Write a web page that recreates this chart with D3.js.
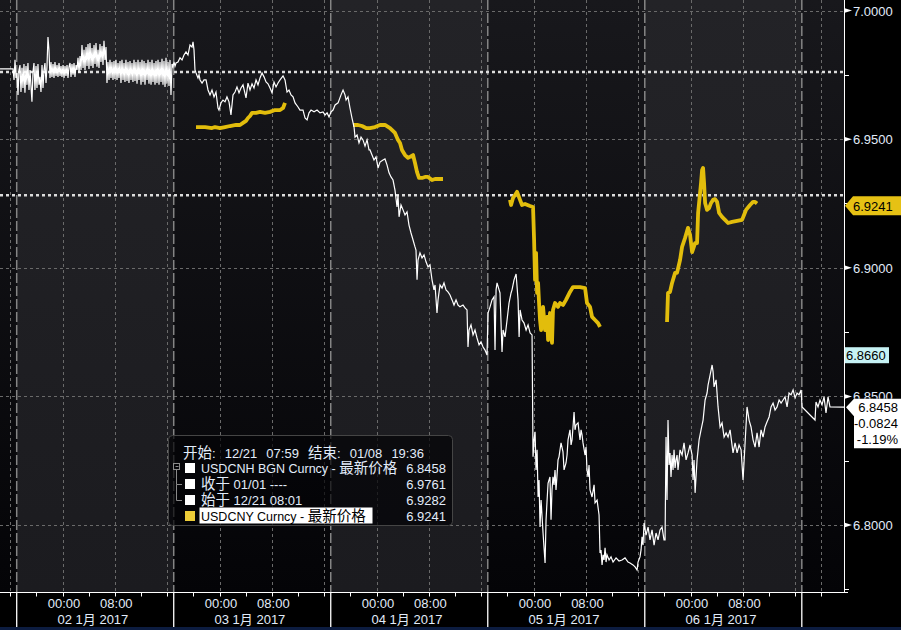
<!DOCTYPE html>
<html><head><meta charset="utf-8">
<script src="https://cdn.jsdelivr.net/npm/d3@7"></script>
<style>
html,body{margin:0;padding:0;background:#000;}
svg{display:block;}
text{font-family:"Liberation Sans",Arial,"Noto Sans CJK SC",sans-serif;}
</style></head><body>
<svg id="c" width="901" height="630"></svg>
<script>
// ---------------- DATA ----------------
// time = hours since 2017-01-02 00:00 (trading-time axis), value = price
const usdcnh = [
[-9.55,6.9773],[-7.56,6.9773],[-7.41,6.9730],[-7.26,6.9808],[-7.11,6.9738],[-6.95,6.9757],[-6.80,6.9672],[-6.65,6.9769],[-6.50,6.9788],[-6.35,6.9683],
[-6.19,6.9777],[-6.04,6.9699],[-5.89,6.9792],[-5.74,6.9680],[-5.58,6.9784],[-5.43,6.9711],[-5.28,6.9796],[-5.12,6.9691],[-4.97,6.9769],[-4.82,6.9707],
[-4.67,6.9645],[-4.51,6.9761],[-4.36,6.9796],[-4.21,6.9691],[-4.05,6.9784],[-3.90,6.9699],[-3.75,6.9792],[-3.60,6.9711],[-3.44,6.9742],[-3.29,6.9683],
[-3.13,6.9788],[-2.98,6.9699],[-2.83,6.9769],[-2.68,6.9796],[-2.52,6.9718],[-2.37,6.9784],[-2.22,6.9897],[-2.07,6.9847],[-1.91,6.9738],[-1.76,6.9800],
[-1.61,6.9742],[-1.45,6.9792],[-1.30,6.9738],[-1.15,6.9800],[-0.99,6.9746],[-0.84,6.9788],[-0.69,6.9742],[-0.53,6.9796],[-0.38,6.9746],[-0.23,6.9784],
[-0.08,6.9742],[0.08,6.9788],[0.23,6.9738],[0.38,6.9784],[0.53,6.9746],[0.69,6.9788],[0.84,6.9738],[0.99,6.9781],[1.15,6.9796],[1.30,6.9742],
[1.45,6.9792],[1.61,6.9750],[1.76,6.9796],[1.91,6.9742],[2.07,6.9788],[2.22,6.9769],[2.37,6.9816],[2.53,6.9757],[2.68,6.9823],[2.83,6.9769],
[2.98,6.9866],[3.14,6.9777],[3.29,6.9847],[3.44,6.9769],[3.60,6.9858],[3.75,6.9784],[3.90,6.9870],[4.05,6.9773],[4.20,6.9874],[4.36,6.9784],
[4.51,6.9854],[4.66,6.9777],[4.82,6.9866],[4.97,6.9792],[5.12,6.9874],[5.27,6.9781],[5.43,6.9847],[5.58,6.9777],[5.73,6.9870],[5.88,6.9800],
[6.04,6.9862],[6.19,6.9788],[6.34,6.9882],[6.49,6.9808],[6.65,6.9858],[6.80,6.9718],[6.95,6.9800],[7.11,6.9730],[7.26,6.9808],[7.41,6.9738],
[7.56,6.9800],[7.72,6.9730],[7.87,6.9804],[8.02,6.9734],[8.17,6.9808],[8.33,6.9730],[8.48,6.9796],[8.63,6.9738],[8.79,6.9804],[8.94,6.9718],
[9.09,6.9808],[9.25,6.9730],[9.40,6.9796],[9.55,6.9722],[9.70,6.9808],[9.86,6.9726],[10.01,6.9800],[10.16,6.9718],[10.32,6.9804],[10.47,6.9730],
[10.62,6.9796],[10.77,6.9722],[10.93,6.9808],[11.08,6.9726],[11.23,6.9800],[11.39,6.9715],[11.54,6.9808],[11.69,6.9730],[11.85,6.9800],[12.00,6.9711],
[12.15,6.9808],[12.30,6.9722],[12.46,6.9804],[12.61,6.9711],[12.76,6.9796],[12.92,6.9730],[13.07,6.9808],[13.22,6.9715],[13.37,6.9800],[13.53,6.9711],
[13.68,6.9808],[13.83,6.9722],[13.99,6.9796],[14.14,6.9711],[14.29,6.9804],[14.44,6.9718],[14.60,6.9808],[14.75,6.9711],[14.90,6.9800],[15.06,6.9722],
[15.21,6.9812],[15.36,6.9711],[15.51,6.9804],[15.67,6.9703],[15.82,6.9816],[15.97,6.9715],[16.13,6.9800],[16.28,6.9707],[16.43,6.9808],[16.58,6.9672],
[16.74,6.9792],[16.89,6.9781],[17.04,6.9800],[17.20,6.9784],[17.35,6.9796],[17.65,6.9800],[17.96,6.9816],[18.27,6.9808],[18.57,6.9827],[18.88,6.9839],
[19.18,6.9827],[19.49,6.9866],[19.80,6.9858],[19.95,6.9878],[20.10,6.9847],[20.25,6.9769],[20.41,6.9757],[20.71,6.9738],[20.87,6.9750],[21.02,6.9730],
[21.33,6.9718],[21.63,6.9730],[21.94,6.9730],[22.24,6.9691],[22.55,6.9672],[22.85,6.9691],[23.16,6.9664],[23.46,6.9683],[23.77,6.9621],[23.92,6.9613],
[24.23,6.9641],[24.53,6.9652],[24.84,6.9645],[25.14,6.9664],[25.45,6.9645],[25.75,6.9594],[26.06,6.9672],[26.37,6.9683],[26.67,6.9703],[26.98,6.9680],
[27.28,6.9699],[27.59,6.9711],[28.05,6.9660],[28.35,6.9718],[28.66,6.9691],[28.97,6.9715],[29.27,6.9699],[29.58,6.9730],[29.88,6.9711],[30.19,6.9738],
[30.50,6.9757],[30.80,6.9742],[31.11,6.9722],[31.41,6.9715],[31.72,6.9699],[32.03,6.9680],[32.33,6.9722],[32.64,6.9703],[32.94,6.9718],[33.25,6.9730],
[33.71,6.9746],[34.01,6.9730],[34.32,6.9683],[34.62,6.9691],[34.93,6.9672],[35.24,6.9664],[35.54,6.9641],[36.00,6.9625],[36.30,6.9613],[36.76,6.9613],
[37.07,6.9582],[37.38,6.9575],[37.68,6.9602],[37.99,6.9613],[38.45,6.9606],[38.91,6.9613],[39.36,6.9602],[39.82,6.9606],[40.13,6.9594],[40.44,6.9602],
[40.74,6.9586],[41.05,6.9606],[41.35,6.9613],[41.66,6.9633],[42.12,6.9641],[42.57,6.9672],[42.88,6.9691],[43.18,6.9672],[43.34,6.9652],[43.64,6.9664],
[43.94,6.9621],[44.25,6.9582],[44.56,6.9547],[44.71,6.9508],[45.02,6.9516],[45.32,6.9485],[45.63,6.9508],[45.93,6.9497],[46.24,6.9473],[46.55,6.9497],
[46.85,6.9458],[47.00,6.9458],[47.31,6.9438],[47.61,6.9419],[47.92,6.9431],[48.23,6.9388],[48.53,6.9411],[48.99,6.9419],[49.29,6.9423],[49.60,6.9400],
[49.91,6.9369],[50.21,6.9353],[50.52,6.9341],[50.82,6.9302],[51.13,6.9236],[51.28,6.9283],[51.44,6.9198],[51.74,6.9244],[52.05,6.9225],[52.35,6.9205],
[52.66,6.9217],[52.96,6.9166],[53.27,6.9135],[53.58,6.9108],[53.88,6.9081],[54.03,6.9069],[54.19,6.8953],[54.34,6.9030],[54.64,6.9058],[54.95,6.9038],
[55.26,6.9050],[55.56,6.9023],[55.87,6.9003],[56.17,6.9011],[56.48,6.8953],[56.78,6.8914],[56.94,6.8933],[57.24,6.8824],[57.40,6.8875],[57.70,6.8933],
[58.01,6.8921],[58.31,6.8941],[58.62,6.8914],[58.92,6.8906],[59.23,6.8894],[59.54,6.8875],[59.84,6.8855],[60.15,6.8875],[60.45,6.8855],[60.76,6.8848],
[61.22,6.8855],[61.52,6.8844],[61.83,6.8836],[61.98,6.8692],[62.14,6.8758],[62.44,6.8778],[62.75,6.8739],[63.05,6.8758],[63.36,6.8727],[63.67,6.8700],
[63.97,6.8712],[64.28,6.8692],[64.58,6.8680],[64.89,6.8661],[65.04,6.8824],[65.35,6.8848],[65.65,6.8875],[65.96,6.8887],[66.11,6.8680],[66.27,6.8914],
[66.42,6.8941],[66.73,6.8914],[66.87,6.8902],[67.03,6.8785],[67.18,6.8673],[67.34,6.8758],[67.64,6.8731],[67.95,6.8797],[68.25,6.8863],[68.56,6.8902],
[68.71,6.8914],[69.02,6.8953],[69.33,6.8976],[69.63,6.8875],[69.79,6.8731],[69.94,6.8836],[70.24,6.8797],[70.55,6.8785],[70.86,6.8758],[71.16,6.8778],
[71.47,6.8747],[71.77,6.8739],[71.92,6.8265],[72.08,6.8331],[72.23,6.8362],[72.38,6.8214],[72.54,6.8292],[72.69,6.8109],[72.84,6.8175],[72.99,6.7992],
[73.15,6.8097],[73.45,6.7969],[73.76,6.7852],[73.91,6.8020],[74.07,6.8097],[74.22,6.8163],[74.51,6.8187],[74.67,6.8020],[74.82,6.8136],[74.97,6.8187],
[75.13,6.8156],[75.28,6.8214],[75.43,6.8136],[75.59,6.8195],[75.74,6.8253],[75.89,6.8265],[76.20,6.8319],[76.50,6.8284],[76.66,6.8214],[76.96,6.8241],
[77.12,6.8272],[77.27,6.8331],[77.57,6.8370],[77.73,6.8311],[77.88,6.8331],[78.03,6.8381],[78.19,6.8439],[78.34,6.8370],[78.49,6.8389],[78.80,6.8397],
[79.10,6.8331],[79.26,6.8370],[79.41,6.8350],[79.56,6.8319],[79.87,6.8272],[80.02,6.8303],[80.17,6.8214],[80.33,6.8187],[80.48,6.8233],[80.63,6.8136],
[80.94,6.8109],[81.25,6.8156],[81.40,6.8086],[81.71,6.8097],[82.01,6.8039],[82.16,6.7891],[82.31,6.7903],[82.47,6.7845],[82.62,6.7884],[82.77,6.7864],
[82.93,6.7911],[83.08,6.7856],[83.23,6.7884],[83.54,6.7864],[83.84,6.7876],[84.15,6.7856],[84.61,6.7872],[85.06,6.7860],[85.52,6.7864],[85.98,6.7872],
[86.44,6.7856],[86.74,6.7852],[87.20,6.7845],[87.51,6.7837],[87.82,6.7825],[87.97,6.7856],[88.27,6.7876],[88.43,6.7903],[88.58,6.7954],[88.73,6.7922],
[88.89,6.8008],[89.19,6.7961],[89.50,6.7992],[89.80,6.7942],[90.11,6.7981],[90.42,6.7922],[90.72,6.7969],[91.03,6.7942],[91.33,6.7981],[91.64,6.7992],
[91.94,6.7942],[92.10,6.7942],[92.25,6.8342],[92.40,6.8097],[92.55,6.8408],[92.71,6.8233],[92.86,6.8280],[93.01,6.8187],[93.17,6.8272],[93.32,6.8214],
[93.47,6.8292],[93.63,6.8222],[93.78,6.8253],[93.93,6.8272],[94.08,6.8214],[94.39,6.8292],[94.70,6.8272],[95.00,6.8319],[95.31,6.8253],[95.61,6.8280],
[95.92,6.8311],[96.23,6.8272],[96.38,6.8175],[96.53,6.8253],[96.69,6.8125],[96.99,6.8253],[97.30,6.8331],[97.60,6.8370],[97.91,6.8408],[98.22,6.8486],
[98.52,6.8513],[98.67,6.8544],[98.98,6.8583],[99.29,6.8622],[99.44,6.8595],[99.59,6.8537],[99.90,6.8564],[100.20,6.8459],[100.51,6.8381],[100.81,6.8397],
[101.12,6.8342],[101.43,6.8358],[101.73,6.8342],[102.04,6.8370],[102.49,6.8280],[102.80,6.8319],[103.11,6.8280],[103.41,6.8311],[103.72,6.8292],[104.02,6.8175],
[104.33,6.8319],[104.63,6.8459],[104.94,6.8408],[105.24,6.8381],[105.55,6.8331],[105.86,6.8303],[106.16,6.8358],[106.47,6.8303],[106.77,6.8370],[107.08,6.8342],
[107.38,6.8381],[107.69,6.8401],[108.00,6.8420],[108.30,6.8459],[108.61,6.8474],[108.91,6.8447],[109.22,6.8459],[109.53,6.8486],[109.83,6.8474],[110.14,6.8486],
[110.44,6.8498],[110.75,6.8459],[111.05,6.8513],[111.36,6.8506],[111.67,6.8525],[111.97,6.8494],[112.28,6.8513],[112.58,6.8506],[112.89,6.8525],[113.04,6.8459],
[115.02,6.8408],[115.17,6.8478],[115.48,6.8459],[115.78,6.8486],[116.09,6.8467],[116.40,6.8498],[116.70,6.8436],[117.01,6.8498],[117.31,6.8459],[119.45,6.8458]
];
// USDCNY onshore sessions (one array per trading day)
const usdcnyJan03 = [[20.41,6.9547],[21.79,6.9547],[22.85,6.9543],[23.31,6.9547],[24.07,6.9543],[24.84,6.9547],[25.60,6.9551],[26.52,6.9555],[27.13,6.9555],[27.59,6.9563],[28.05,6.9571],[28.35,6.9582],[28.66,6.9590],[28.97,6.9602],[29.58,6.9602],[30.19,6.9606],[30.96,6.9602],[31.72,6.9606],[32.48,6.9613],[33.25,6.9613],[33.71,6.9621],[34.01,6.9641]];
const usdcnyJan04 = [[44.40,6.9555],[45.17,6.9555],[45.78,6.9551],[46.39,6.9543],[47.00,6.9543],[47.77,6.9547],[48.53,6.9555],[49.29,6.9555],[50.06,6.9543],[50.82,6.9524],[51.28,6.9497],[51.59,6.9485],[51.89,6.9458],[52.35,6.9438],[52.81,6.9427],[53.12,6.9431],[53.58,6.9438],[53.88,6.9407],[54.19,6.9372],[54.49,6.9349],[54.95,6.9349],[55.41,6.9353],[55.87,6.9353],[56.48,6.9341],[56.94,6.9345],[58.16,6.9345]];
const usdcnyJan05 = [[68.40,6.9264],[68.56,6.9244],[68.86,6.9271],[69.17,6.9283],[69.48,6.9295],[69.93,6.9264],[70.24,6.9244],[70.70,6.9248],[71.46,6.9240],[71.92,6.9236],[72.08,6.9108],[72.23,6.8953],[72.38,6.9058],[72.54,6.8902],[72.69,6.8941],[72.84,6.8863],[72.99,6.8797],[73.15,6.8758],[73.45,6.8848],[73.76,6.8758],[73.91,6.8797],[74.07,6.8809],[74.22,6.8719],[74.51,6.8824],[74.82,6.8708],[74.97,6.8836],[75.28,6.8863],[75.74,6.8848],[76.04,6.8863],[76.50,6.8855],[76.96,6.8875],[77.57,6.8906],[78.03,6.8925],[78.34,6.8925],[79.10,6.8925],[79.87,6.8921],[80.17,6.8863],[80.63,6.8848],[80.94,6.8809],[81.40,6.8797],[81.86,6.8785],[82.16,6.8770]];
const usdcnyJan06 = [[92.40,6.8789],[92.55,6.8902],[92.86,6.8906],[93.17,6.8941],[93.63,6.8980],[93.93,6.8980],[94.39,6.9030],[94.70,6.9081],[95.16,6.9116],[95.61,6.9155],[95.92,6.9128],[96.23,6.9061],[96.69,6.9096],[96.99,6.9096],[97.15,6.9213],[97.45,6.9291],[97.60,6.9330],[97.76,6.9380],[97.91,6.9388],[98.06,6.9330],[98.22,6.9252],[98.52,6.9225],[98.83,6.9232],[99.13,6.9252],[99.44,6.9264],[99.74,6.9267],[100.05,6.9256],[100.36,6.9213],[100.81,6.9198],[101.27,6.9186],[101.73,6.9174],[102.34,6.9178],[103.11,6.9182],[103.87,6.9186],[104.17,6.9205],[104.48,6.9225],[105.09,6.9244],[105.55,6.9256],[105.86,6.9256],[106.16,6.9250]];

const yMajorTicks = [6.80, 6.85, 6.90, 6.95, 7.00];
const yMinorTicks = [6.775, 6.825, 6.875, 6.925, 6.975];
const timeTickHours = [0, 8, 24, 32, 48, 56, 72, 80, 96, 104];
const timeTickLabels = ["00:00","08:00","00:00","08:00","00:00","08:00","00:00","08:00","00:00","08:00"];
const dayStartHours = [0, 24, 48, 72, 96];
const dayLabels = ["02 1月 2017","03 1月 2017","04 1月 2017","05 1月 2017","06 1月 2017"];
const sessionBreakHours = [-7, 17, 41, 65, 89, 113];
const gridHours = [-8,0,8,16,24,32,40,48,56,64,72,80,88,96,104,112,116];
const minorTimeTicks = [-8,-4,0,4,8,12,16,20,24,28,32,36,40,44,48,52,56,60,64,68,72,76,80,84,88,92,96,100,104,108,112,116];
const refLines = [6.9761, 6.9282];   // 收于 01/01, 始于 12/21
const lastCNY = 6.9241, lastCNH = 6.8458, netChange = "-0.0824", pctChange = "-1.19%", markValue = 6.8660;
const legendHeader = "开始: 12/21 07:59 结束: 01/08 19:36";
const legendNames = ["USDCNH BGN Curncy - 最新价格", "收于 01/01 ----", "始于 12/21 08:01", "USDCNY Curncy - 最新价格"];
const legendValues = ["6.8458", "6.9761", "6.9282", "6.9241"];

// ---------------- DRAW ----------------
const W = 901, H = 630, PR = 844, PB = 592.5;
const x = d3.scaleLinear().domain([-9.553, 119.45]).range([0, PR]);
const y = d3.scaleLinear().domain([6.8, 7.0]).range([525, 10.5]);
const svg = d3.select("#c");
const TXT = "#e2ecfa";
svg.append("rect").attr("width", W).attr("height", H).attr("fill", "#000");
svg.append("rect").attr("x",0).attr("y",627).attr("width",W).attr("height",3).attr("fill","#0c1c40");

const defs = svg.append("defs");
function grad(id, c1, c2){
  const g = defs.append("linearGradient").attr("id", id).attr("x1",0).attr("y1",0).attr("x2",0).attr("y2",1);
  g.append("stop").attr("offset","0%").attr("stop-color",c1);
  g.append("stop").attr("offset","100%").attr("stop-color",c2);
}
grad("gL", "#232327", "#1b1b1f");
grad("gD", "#18181c", "#040407");
defs.append("clipPath").attr("id","clip").append("rect").attr("x",0).attr("y",0).attr("width",PR).attr("height",PB);
defs.append("clipPath").attr("id","clipHalf").append("rect").attr("x",PR).attr("y",0).attr("width",60).attr("height",y(6.8458)-8.5);

// day bands
const bandEdges = [x.domain()[0], ...sessionBreakHours, x.domain()[1]];
for (let i = 0; i < bandEdges.length - 1; i++) {
  svg.append("rect").attr("x", x(bandEdges[i])).attr("y", 0)
    .attr("width", x(bandEdges[i+1]) - x(bandEdges[i])).attr("height", PB)
    .attr("fill", i % 2 === 1 ? "url(#gL)" : "url(#gD)");
}
// grid
svg.append("g").selectAll("line").data(yMajorTicks).join("line")
  .attr("x1",0).attr("x2",PR).attr("y1",d=>Math.round(y(d))+0.5).attr("y2",d=>Math.round(y(d))+0.5)
  .attr("stroke","#6a6a6a").attr("stroke-dasharray","3,3");
svg.append("g").selectAll("line").data(gridHours).join("line")
  .attr("x1",d=>Math.round(x(d))+0.5).attr("x2",d=>Math.round(x(d))+0.5).attr("y1",0).attr("y2",PB)
  .attr("stroke","#6a6a6a").attr("stroke-dasharray","3,3");
svg.append("g").selectAll("line").data(sessionBreakHours).join("line")
  .attr("x1",d=>x(d)).attr("x2",d=>x(d)).attr("y1",0).attr("y2",PB)
  .attr("stroke","#858585").attr("stroke-width",1.5).attr("stroke-dasharray","10,3");
// reference dotted lines
svg.append("g").selectAll("line").data(refLines).join("line")
  .attr("x1",0).attr("x2",PR).attr("y1",d=>y(d)).attr("y2",d=>y(d))
  .attr("stroke","#dcdcdc").attr("stroke-width",2.5).attr("stroke-dasharray","3,3");

// series
const line = d3.line().x(d=>x(d[0])).y(d=>y(d[1]));
const gS = svg.append("g").attr("clip-path","url(#clip)");
[usdcnyJan03, usdcnyJan04, usdcnyJan05, usdcnyJan06].forEach(seg => {
  gS.append("path").attr("d", line(seg)).attr("fill","none")
    .attr("stroke","#e2bd0c").attr("stroke-width",3.8).attr("stroke-linejoin","round").attr("stroke-linecap","butt");
});
gS.append("path").attr("d", line(usdcnh)).attr("fill","none")
  .attr("stroke","#ffffff").attr("stroke-width",1.2).attr("stroke-linejoin","miter");

// axes lines
svg.append("line").attr("x1",PR+0.5).attr("x2",PR+0.5).attr("y1",0).attr("y2",PB).attr("stroke","#fff");
svg.append("line").attr("x1",0).attr("x2",PR+4).attr("y1",PB).attr("y2",PB).attr("stroke","#fff");

// bottom axis
svg.append("g").selectAll("line").data(minorTimeTicks).join("line")
  .attr("x1",d=>Math.round(x(d))+0.5).attr("x2",d=>Math.round(x(d))+0.5).attr("y1",PB).attr("y2",PB+4).attr("stroke","#fff");
svg.append("g").selectAll("line").data(sessionBreakHours).join("line")
  .attr("x1",d=>x(d)).attr("x2",d=>x(d)).attr("y1",PB).attr("y2",627).attr("stroke","#fff").attr("stroke-width",1.3);
svg.append("g").selectAll("text").data(timeTickHours).join("text")
  .attr("x",d=>x(d)+1.5).attr("y",608).attr("text-anchor","middle").attr("fill",TXT)
  .attr("font-size",13).text((d,i)=>timeTickLabels[i]);
svg.append("g").selectAll("text").data(dayStartHours).join("text")
  .attr("x",d=>x(d)-5).attr("y",624).attr("fill",TXT).attr("font-size",13).text((d,i)=>dayLabels[i]);

// right axis
const gR = svg.append("g");
gR.selectAll("line.mi").data(yMinorTicks).join("line").attr("class","mi")
  .attr("x1",PR).attr("x2",PR+5).attr("y1",d=>Math.round(y(d))+0.5).attr("y2",d=>Math.round(y(d))+0.5).attr("stroke","#fff");
gR.selectAll("path.tri").data(yMajorTicks).join("path").attr("class","tri")
  .attr("d",d=>{const yy=y(d); return `M${PR},${yy-2.5}L${PR+8},${yy}L${PR},${yy+2.5}Z`;}).attr("fill","#fff");
// the 6.8500 label sits under the last-price tag; only its top shows, as in the reference
gR.selectAll("text").data(yMajorTicks).join("text")
  .attr("x",PR+9).attr("y",d=>y(d)+5).attr("fill",TXT).attr("font-size",13)
  .attr("clip-path",d=>d===6.85 ? "url(#clipHalf)" : null)
  .text(d=>d3.format(".4f")(d));

// mark label (light cyan)
{
  const yy = y(markValue);
  svg.append("rect").attr("x",PR+1).attr("y",yy-8).attr("width",44).attr("height",16).attr("fill","#c6f2f4");
  svg.append("text").attr("x",PR+2).attr("y",yy+5).attr("font-size",13).attr("fill","#000").text(d3.format(".4f")(markValue));
}
// CNY last label (yellow)
{
  const yy = y(lastCNY);
  svg.append("path").attr("d",`M${PR+1},${yy}L${PR+9},${yy-9.5}L${W},${yy-9.5}L${W},${yy+9.5}L${PR+9},${yy+9.5}Z`).attr("fill","#e6c114");
  svg.append("text").attr("x",PR+9).attr("y",yy+5).attr("font-size",13).attr("fill","#000").text(d3.format(".4f")(lastCNY));
}
// CNH last label (white, three rows)
{
  const yy = y(lastCNH);
  svg.append("path").attr("d",`M${PR+2},${yy}L${PR+10},${yy-8.5}L${W},${yy-8.5}L${W},${yy+41}L${PR+10},${yy+41}L${PR+10},${yy+9}Z`).attr("fill","#fff");
  [d3.format(".4f")(lastCNH), netChange, pctChange].forEach((t,i)=>{
    svg.append("text").attr("x",W-3).attr("y",yy+5+i*16).attr("text-anchor","end").attr("font-size",13).attr("fill","#000").text(t);
  });
}

// legend
const LG = svg.append("g");
LG.append("rect").attr("x",168.5).attr("y",435.5).attr("width",284).attr("height",90).attr("rx",4)
  .attr("fill","rgba(4,4,7,0.72)").attr("stroke","#454545");
function richText(g, str, xx, yy, color, anchor){
  const t = g.append("text").attr("x",xx).attr("y",yy).attr("fill",color).attr("font-size",12.5);
  if (anchor) t.attr("text-anchor",anchor);
  const parts = str.match(/[\u3000-\u9fff]+|[^\u3000-\u9fff]+/g);
  parts.forEach(p => {
    const cjk = /[\u3000-\u9fff]/.test(p);
    t.append("tspan").attr("font-size", cjk ? 14.5 : 13).text(p);
  });
  return t;
}
const rowY = [453, 468, 484, 500, 516];
richText(LG, legendHeader, 183, rowY[0]+5, TXT).attr("word-spacing", 5.5);
// tree connector
LG.append("rect").attr("x",173.5).attr("y",463.5).attr("width",6).attr("height",6).attr("fill","none").attr("stroke","#8a8a8a");
LG.append("line").attr("x1",175.5).attr("x2",178.5).attr("y1",466.5).attr("y2",466.5).attr("stroke","#8a8a8a");
LG.append("path").attr("d","M176.5,470V484.5H182M176.5,484.5V500.5H182").attr("fill","none").attr("stroke","#8a8a8a");
legendNames.forEach((name,i)=>{
  const cy = rowY[i+1];
  LG.append("rect").attr("x",185).attr("y",cy-5).attr("width",10).attr("height",10).attr("fill", i===3 ? "#edcc38" : "#fff");
  if (i===3) LG.append("rect").attr("x",199.5).attr("y",cy-8.5).attr("width",173).attr("height",16).attr("fill","#fff");
  const t = richText(LG, name, 201, cy+5, i===3 ? "#000" : TXT);
  if (i===0 || i===3) t.selectAll("tspan").filter((d,j,n)=>!/[\u3000-\u9fff]/.test(n[j].textContent)).attr("font-size",12.5);
  LG.append("text").attr("x",446).attr("y",cy+5).attr("text-anchor","end").attr("font-size",13).attr("fill",TXT).text(legendValues[i]);
});
</script>
</body></html>
